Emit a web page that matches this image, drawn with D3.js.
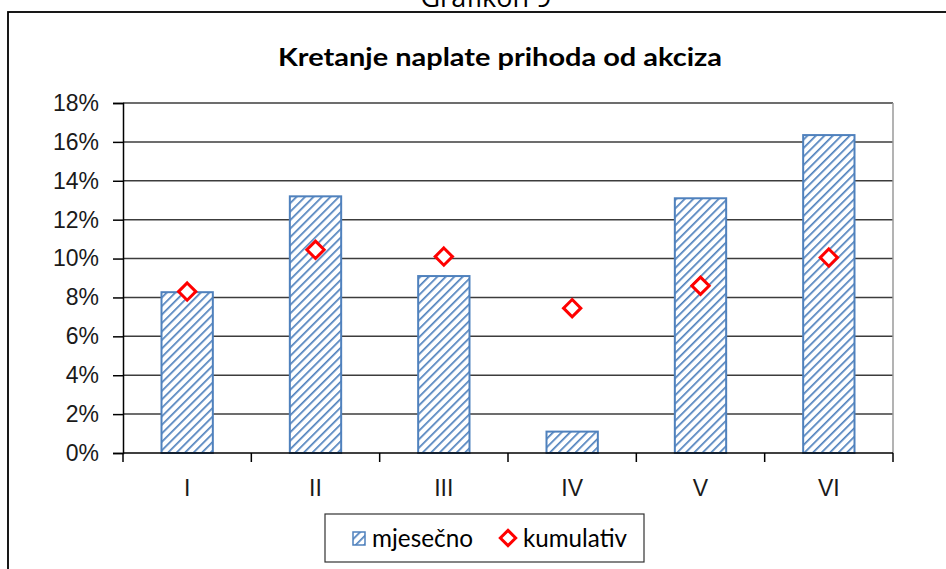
<!DOCTYPE html>
<html lang="en">
<head>
<meta charset="utf-8">
<title>Kretanje naplate prihoda od akciza</title>
<script src="https://cdn.jsdelivr.net/npm/d3@7"></script>
<style>
  body { margin: 0; background: #fff; }
  text { font-family: "Liberation Sans", Arial, sans-serif; }
</style>
</head>
<body>
<script>
// chart values (percent)
var months = ["I", "II", "III", "IV", "V", "VI"];
var mjesecno = [8.27, 13.2, 9.1, 1.1, 13.1, 16.35];
var kumulativ = [8.3, 10.45, 10.1, 7.45, 8.6, 10.05];
var yTicks = [0, 2, 4, 6, 8, 10, 12, 14, 16, 18];

var w = 946, h = 569;
var plotLeft = 123, plotRight = 893, plotTop = 103, plotBottom = 453;

var svg = d3.select("body").append("svg")
  .attr("width", w)
  .attr("height", h);

// hatch pattern for bars
var defs = svg.append("defs");
var pat = defs.append("pattern")
  .attr("id", "hatch")
  .attr("patternUnits", "userSpaceOnUse")
  .attr("width", 6)
  .attr("height", 6)
  .attr("patternTransform", "rotate(45)");
pat.append("rect").attr("width", 6).attr("height", 6).attr("fill", "#fff");
pat.append("line")
  .attr("x1", 0).attr("y1", 0).attr("x2", 0).attr("y2", 6)
  .attr("stroke", "#4f81bd").attr("stroke-width", 3.4);

// page caption (cut off at the top) and outer frame
svg.append("text")
  .attr("x", 486).attr("y", 7)
  .attr("text-anchor", "middle")
  .style("font-family", "'Open Sans', sans-serif")
  .style("font-size", "27px")
  .text("Grafikon 9");

svg.append("rect")
  .attr("x", 8).attr("y", 12)
  .attr("width", 960).attr("height", 570)
  .attr("fill", "none")
  .attr("stroke", "#000")
  .attr("stroke-width", 1.8);

svg.append("text")
  .attr("x", 500).attr("y", 66)
  .attr("text-anchor", "middle")
  .attr("textLength", 444)
  .attr("lengthAdjust", "spacingAndGlyphs")
  .style("font-family", "Lato, 'Open Sans', sans-serif")
  .style("font-weight", "bold")
  .style("font-size", "25px")
  .text("Kretanje naplate prihoda  od akciza");

var xScale = d3.scaleBand()
  .domain(months)
  .range([plotLeft, plotRight])
  .paddingInner(0.6)
  .paddingOuter(0.3);

var yScale = d3.scaleLinear()
  .domain([0, 18])
  .range([plotBottom, plotTop]);

// gridlines
svg.append("g")
  .selectAll("line")
  .data(yTicks.slice(1))
  .enter()
  .append("line")
  .attr("x1", plotLeft).attr("x2", plotRight)
  .attr("y1", function(d) { return yScale(d); })
  .attr("y2", function(d) { return yScale(d); })
  .attr("stroke", "#3c3c3c")
  .attr("stroke-width", 1.5);

// right edge of plot area
svg.append("line")
  .attr("x1", plotRight).attr("x2", plotRight)
  .attr("y1", plotTop).attr("y2", plotBottom)
  .attr("stroke", "#9a9a9a")
  .attr("stroke-width", 1.5);

// bars
svg.selectAll("rect.bar")
  .data(mjesecno)
  .enter()
  .append("rect")
  .attr("class", "bar")
  .attr("x", function(d, i) { return xScale(months[i]); })
  .attr("y", function(d) { return yScale(d); })
  .attr("width", xScale.bandwidth())
  .attr("height", function(d) { return yScale(0) - yScale(d); })
  .attr("fill", "url(#hatch)")
  .attr("stroke", "#4f81bd")
  .attr("stroke-width", 2);

// Y axis
var yAxis = d3.axisLeft(yScale)
  .tickValues(yTicks)
  .tickSize(10)
  .tickPadding(14)
  .tickFormat(function(d) { return d + "%"; });

var gy = svg.append("g")
  .attr("transform", "translate(" + plotLeft + ",0)")
  .call(yAxis);
gy.select(".domain").attr("stroke", "#000").attr("stroke-width", 1.5);
gy.selectAll(".tick line").attr("stroke", "#000").attr("stroke-width", 1.5);
gy.selectAll("text")
  .style("font-family", "'Liberation Sans', Arial, sans-serif")
  .style("font-size", "23px")
  .attr("fill", "#1a1a1a");

// X axis: ticks at category boundaries
var step = xScale.step();
var x0 = xScale(months[0]) - xScale.step() * xScale.paddingInner() / 2;
var gx = svg.append("g");
gx.append("line")
  .attr("x1", plotLeft).attr("x2", plotRight)
  .attr("y1", plotBottom).attr("y2", plotBottom)
  .attr("stroke", "#000").attr("stroke-width", 1.5);
gx.selectAll("line.tk")
  .data(d3.range(months.length + 1))
  .enter()
  .append("line")
  .attr("class", "tk")
  .attr("x1", function(i) { return x0 + i * step; })
  .attr("x2", function(i) { return x0 + i * step; })
  .attr("y1", plotBottom).attr("y2", plotBottom + 9)
  .attr("stroke", "#000").attr("stroke-width", 1.5);
gx.selectAll("text")
  .data(months)
  .enter()
  .append("text")
  .attr("x", function(d) { return xScale(d) + xScale.bandwidth() / 2; })
  .attr("y", 496)
  .attr("text-anchor", "middle")
  .attr("fill", "#1a1a1a")
  .style("font-size", "23px")
  .text(function(d) { return d; });

// diamonds
var diamond = d3.symbol().type(d3.symbolDiamond2).size(190);
svg.selectAll("path.kum")
  .data(kumulativ)
  .enter()
  .append("path")
  .attr("class", "kum")
  .attr("d", diamond)
  .attr("transform", function(d, i) {
    return "translate(" + (xScale(months[i]) + xScale.bandwidth() / 2) + "," + yScale(d) + ")";
  })
  .attr("fill", "#fff")
  .attr("stroke", "#ff0000")
  .attr("stroke-width", 3);

// legend
var lg = svg.append("g");
lg.append("rect")
  .attr("x", 325).attr("y", 514)
  .attr("width", 319).attr("height", 48)
  .attr("fill", "#fff")
  .attr("stroke", "#333")
  .attr("stroke-width", 1.2);
lg.append("rect")
  .attr("x", 353).attr("y", 532)
  .attr("width", 12).attr("height", 13)
  .attr("fill", "url(#hatch)")
  .attr("stroke", "#4f81bd")
  .attr("stroke-width", 1.5);
lg.append("text")
  .attr("x", 372).attr("y", 547)
  .attr("textLength", 101)
  .attr("lengthAdjust", "spacingAndGlyphs")
  .style("font-family", "Lato, 'Open Sans', sans-serif")
  .style("font-size", "25px")
  .text("mjesečno");
lg.append("path")
  .attr("d", d3.symbol().type(d3.symbolDiamond2).size(150))
  .attr("transform", "translate(508,538)")
  .attr("fill", "#fff")
  .attr("stroke", "#ff0000")
  .attr("stroke-width", 3);
lg.append("text")
  .attr("x", 523).attr("y", 547)
  .attr("textLength", 104)
  .attr("lengthAdjust", "spacingAndGlyphs")
  .style("font-family", "Lato, 'Open Sans', sans-serif")
  .style("font-size", "25px")
  .text("kumulativ");
</script>
</body>
</html>
